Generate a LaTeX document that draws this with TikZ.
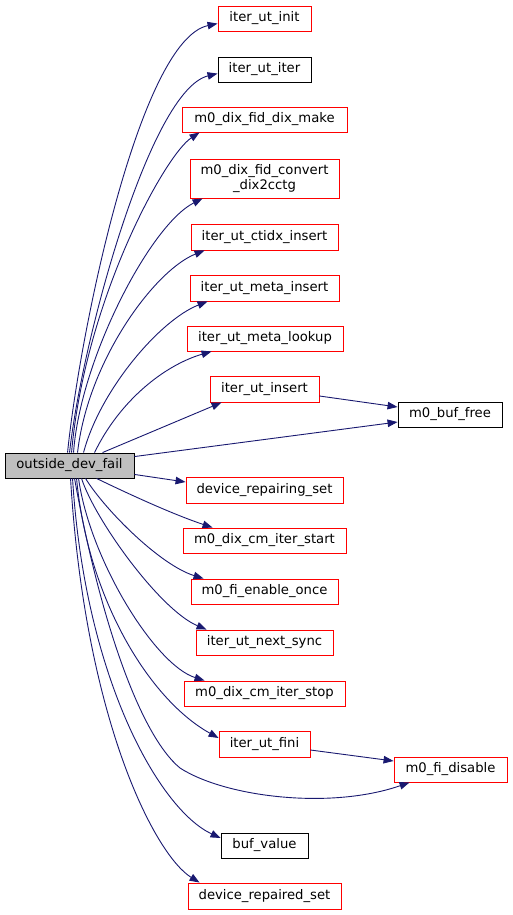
\documentclass[tikz,border=0pt]{standalone}
\usepackage{fontspec}
\setmainfont{DejaVu Sans}
\usetikzlibrary{arrows.meta,calc}
\definecolor{edgeblue}{HTML}{191970}
\definecolor{srcgray}{HTML}{BFBFBF}
\newcommand\dbox[7]{\node[#2, minimum width={(#5-#3)*1pt}, minimum height={(#6-#4)*1pt}] (#1) at ({(#3+#5)/2},{(#4+#6)/2}) {#7};}
\tikzset{
  boxbase/.style={draw, line width=0.9pt, inner sep=0pt, fill=white, align=center,
    font=\fontsize{13.2}{14.4}\selectfont},
  redbox/.style={boxbase, draw=red},
  blackbox/.style={boxbase, draw=black},
  srcbox/.style={boxbase, draw=black, fill=srcgray},
  call/.style={draw=edgeblue, line width=0.9pt, -{Triangle[length=10pt,width=7.5pt]}, fill=none},
}
\begin{document}
\begin{tikzpicture}[x=1pt,y=-1pt]
\useasboundingbox (0,0) rectangle (512,915);
\dbox{init}{redbox}{218}{6}{311}{31}{iter\_ut\_init}
\dbox{iter}{blackbox}{218}{57}{311}{82}{iter\_ut\_iter}
\dbox{make}{redbox}{182}{107}{347}{132}{m0\_dix\_fid\_dix\_make}
\dbox{convert}{redbox}{190}{159}{339}{198}{m0\_dix\_fid\_convert\\\_dix2cctg}
\dbox{ctidx}{redbox}{191}{224}{338}{250}{iter\_ut\_ctidx\_insert}
\dbox{metains}{redbox}{190}{275}{339}{301}{iter\_ut\_meta\_insert}
\dbox{lookup}{redbox}{187}{326}{343}{351}{iter\_ut\_meta\_lookup}
\dbox{insert}{redbox}{210}{376}{319}{402}{iter\_ut\_insert}
\dbox{buffree}{blackbox}{398}{402}{502}{427}{m0\_buf\_free}
\dbox{src}{srcbox}{5}{453}{134}{478}{outside\_dev\_fail}
\dbox{repairing}{redbox}{186}{477}{343}{503}{device\_repairing\_set}
\dbox{cmstart}{redbox}{183}{528}{346}{553}{m0\_dix\_cm\_iter\_start}
\dbox{enable}{redbox}{191}{579}{338}{604}{m0\_fi\_enable\_once}
\dbox{nextsync}{redbox}{196}{630}{333}{655}{iter\_ut\_next\_sync}
\dbox{cmstop}{redbox}{184}{681}{345}{706}{m0\_dix\_cm\_iter\_stop}
\dbox{fini}{redbox}{219}{731}{310}{757}{iter\_ut\_fini}
\dbox{disable}{redbox}{394}{757}{507}{782}{m0\_fi\_disable}
\dbox{bufvalue}{blackbox}{221}{833}{308}{858}{buf\_value}
\dbox{repaired}{redbox}{188}{883}{341}{909}{device\_repaired\_set}

% upward curves
\draw[call] ($(src.north west)+(63,0)$) .. controls (80,330) and (140,40) .. ($(init.north west)+(0,18)$);
\draw[call] ($(src.north west)+(65,0)$) .. controls (82,340) and (150,90) .. ($(iter.north west)+(0,17)$);
\draw[call] ($(src.north west)+(67,0)$) .. controls (85,300) and (165,155) .. ($(make.south west)+(18,0)$);
\draw[call] ($(src.north west)+(69,0)$) .. controls (80,360) and (150,225) .. ($(convert.south west)+(13,0)$);
\draw[call] ($(src.north west)+(73,0)$) .. controls (88,360) and (155,270) .. ($(ctidx.south west)+(14,0)$);
\draw[call] ($(src.north west)+(79,0)$) .. controls (100,390) and (160,320) .. ($(metains.south west)+(18,0)$);
\draw[call] ($(src.north west)+(90,0)$) .. controls (120,400) and (165,365) .. ($(lookup.south west)+(25,0)$);
\draw[call] ($(src.north west)+(98,0)$) -- ($(insert.south west)+(12,0)$);
\draw[call] ($(insert.east)+(0,7)$) -- ($(buffree.west)+(0,-7.5)$);
\draw[call] ($(src.north east)+(0,4)$) -- ($(buffree.west)+(0,7.5)$);
% right / downward
\draw[call] ($(src.south east)+(0,-4)$) -- ($(repairing.west)+(0,-8)$);
\draw[call] ($(src.south west)+(92,0)$) .. controls (135,497) and (175,515) .. ($(cmstart.north west)+(30,0)$);
\draw[call] ($(src.south west)+(81,0)$) .. controls (105,510) and (160,565) .. ($(enable.north west)+(13,0)$);
\draw[call] ($(src.south west)+(77,0)$) .. controls (95,520) and (160,610) .. ($(nextsync.north west)+(11,0)$);
\draw[call] ($(src.south west)+(74,0)$) .. controls (90,560) and (155,665) .. ($(cmstop.north west)+(21,0)$);
\draw[call] ($(src.south west)+(72,0)$) .. controls (88,600) and (150,700) .. ($(fini.west)+(0,-6)$);
\draw[call] ($(src.south west)+(70,0)$) .. controls (100,620) and (140,735) .. (180,768) .. controls (225,797) and (330,810) .. ($(disable.south west)+(16,0)$);
\draw[call] ($(fini.east)+(0,6)$) -- ($(disable.west)+(0,-8.5)$);
\draw[call] ($(src.south west)+(68,0)$) .. controls (85,680) and (160,810) .. ($(bufvalue.west)+(0,-7.5)$);
\draw[call] ($(src.south west)+(66,0)$) .. controls (85,720) and (155,855) .. ($(repaired.north west)+(12,0)$);
\end{tikzpicture}
\end{document}
